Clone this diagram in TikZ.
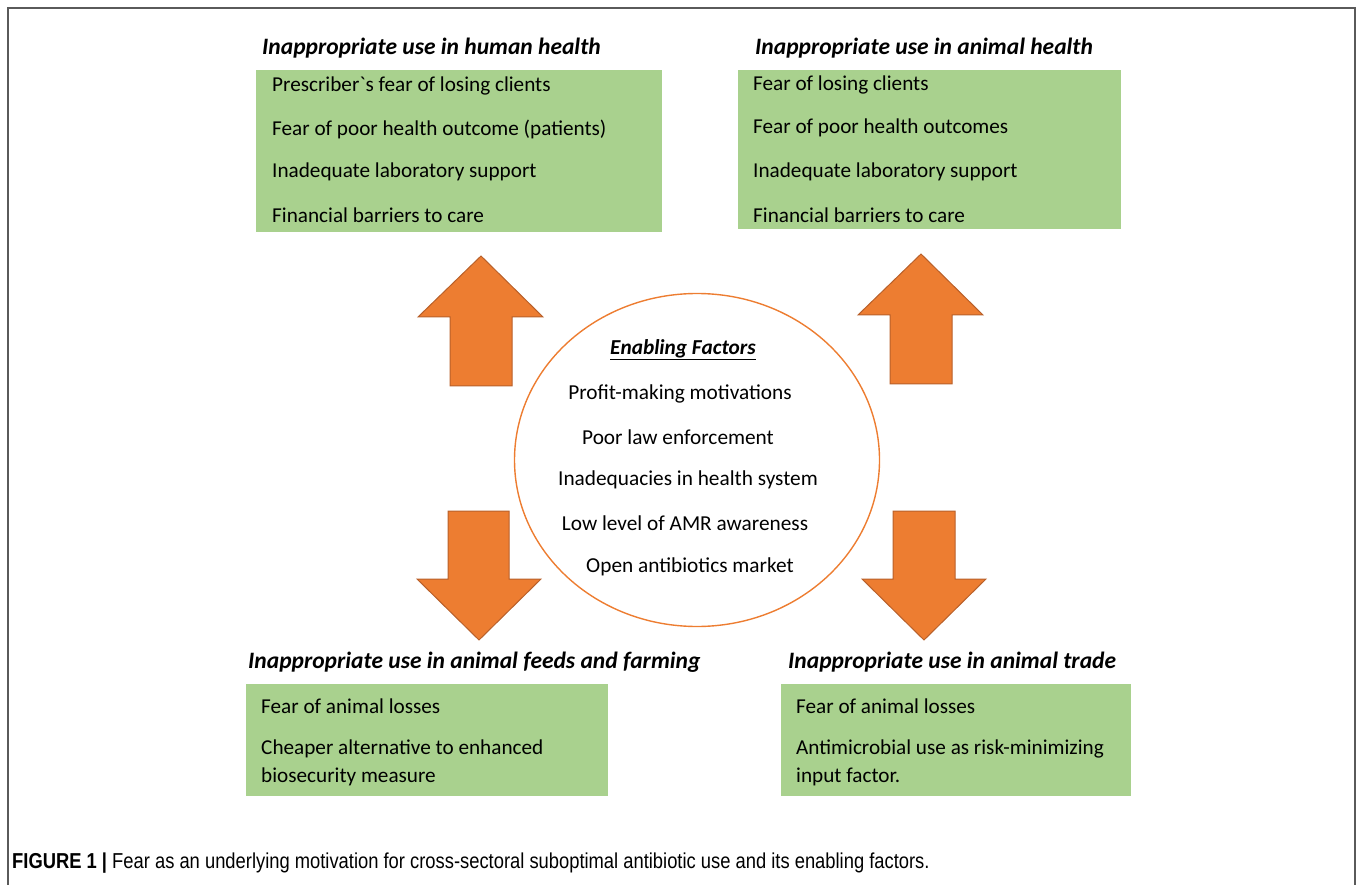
\documentclass[tikz,border=0pt]{standalone}
\usepackage{fontspec}
\setmainfont{Carlito}[Ligatures=TeXOff]
\newfontfamily\capfont[FakeStretch=0.85]{Liberation Sans}
\usetikzlibrary{shapes.geometric}
\definecolor{boxgreen}{HTML}{A9D18E}
\definecolor{arrorange}{HTML}{ED7D31}
\definecolor{arrline}{HTML}{B8602A}
\definecolor{framegray}{HTML}{5A5A5A}
\begin{document}
\begin{tikzpicture}[x=1pt, y=-1pt,
    box/.style={fill=boxgreen, draw=none, inner sep=0pt, anchor=north west},
    head/.style={anchor=west, inner sep=0pt, font=\fontsize{23.5}{27}\selectfont\bfseries\itshape},
    item/.style={anchor=west, inner sep=0pt, align=left, font=\fontsize{21.2}{28}\selectfont},
    factor/.style={inner sep=0pt, font=\fontsize{21.3}{25}\selectfont},
    arr/.style={fill=arrorange, draw=arrline, line width=1pt, line join=miter}]
        \useasboundingbox (0,0) rectangle (1358,885);
        \draw[framegray, line width=1.3pt] (8,886) -- (8,8) -- (1355,8) -- (1355,886);

        % human health
        \node[head] (hhT) at (262,48) {Inappropriate use in human health};
        \node[box, minimum width=406pt, minimum height=162pt] (hh) at (256,70) {};
        \node[item] (hh1) at (272,86) {Prescriber`s fear of losing clients};
        \node[item] (hh2) at (272,129) {Fear of poor health outcome (patients)};
        \node[item] (hh3) at (272,172) {Inadequate laboratory support};
        \node[item] (hh4) at (272,215) {Financial barriers to care};

        % animal health
        \node[head] (ahT) at (755,48) {Inappropriate use in animal health};
        \node[box, minimum width=383pt, minimum height=159pt] (ah) at (738,70) {};
        \node[item] (ah1) at (753,85) {Fear of losing clients};
        \node[item] (ah2) at (753,128) {Fear of poor health outcomes};
        \node[item] (ah3) at (753,172) {Inadequate laboratory support};
        \node[item] (ah4) at (753,215) {Financial barriers to care};

        % feeds and farming
        \node[head] (afT) at (248,662) {Inappropriate use in animal feeds and farming};
        \node[box, minimum width=362pt, minimum height=112pt] (af) at (246,684) {};
        \node[item] (af1) at (261,706) {Fear of animal losses};
        \node[item] (af2) at (261,763) {Cheaper alternative to enhanced\\biosecurity measure};

        % animal trade
        \node[head] (atT) at (788,662) {Inappropriate use in animal trade};
        \node[box, minimum width=350pt, minimum height=112pt] (at) at (781,684) {};
        \node[item] (at1) at (796,706) {Fear of animal losses};
        \node[item] (at2) at (796,763) {Antimicrobial use as risk-minimizing\\input factor.};

        % enabling factors
        \node[draw=arrorange, line width=1.4pt, ellipse, minimum width=365pt, minimum height=333pt] (ef) at (697,460) {};
        \node[factor, font=\fontsize{21.3}{25}\selectfont\bfseries\itshape] (ef0) at (683,350) {\underline{Enabling Factors}};
        \node[factor] (ef1) at (680,394) {Profit-making motivations};
        \node[factor] (ef2) at (678,437) {Poor law enforcement};
        \node[factor] (ef3) at (688,480) {Inadequacies in health system};
        \node[factor] (ef4) at (685,523) {Low level of AMR awareness};
        \node[factor] (ef5) at (690,567) {Open antibiotics market};

        % block arrows
        \draw[arr] (450,386) -- (450,317) -- (418,317) -- (481,256) -- (543,317) -- (512,317) -- (512,386) -- cycle;
        \draw[arr] (890,384) -- (890,315) -- (858,315) -- (921,254) -- (983,315) -- (952,315) -- (952,384) -- cycle;
        \draw[arr] (448,511) -- (448,579) -- (417,579) -- (479,640) -- (541,579) -- (509,579) -- (509,511) -- cycle;
        \draw[arr] (893,511) -- (893,579) -- (862,579) -- (924,640) -- (986,579) -- (955,579) -- (955,511) -- cycle;

        \node[anchor=west, inner sep=0pt, font=\capfont\fontsize{21.6}{24}\selectfont] (cap) at (12,863)
            {\textbf{FIGURE 1 |} Fear as an underlying motivation for cross-sectoral suboptimal antibiotic use and its enabling factors.};
\end{tikzpicture}
\end{document}
